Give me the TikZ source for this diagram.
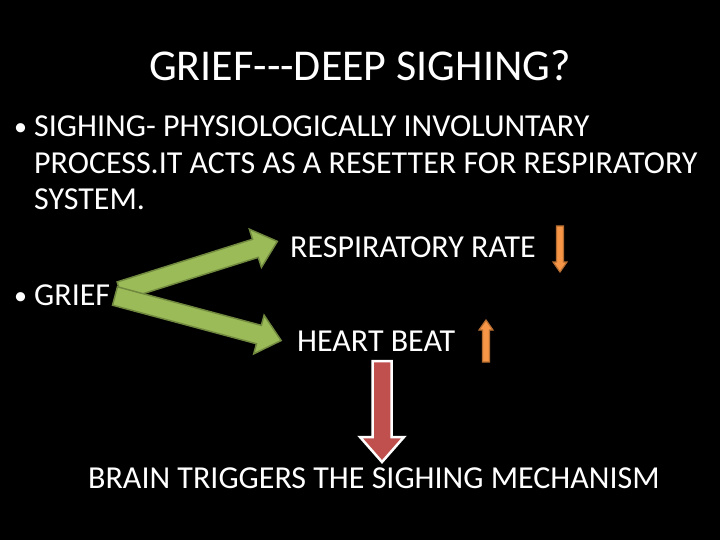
\documentclass[tikz,border=0pt]{standalone}
\usepackage{fontspec}
\setmainfont{Carlito}
\definecolor{grfill}{HTML}{9BBB59}
\definecolor{grline}{HTML}{71893F}
\definecolor{orfill}{HTML}{F79646}
\definecolor{orline}{HTML}{B66D31}
\definecolor{rdfill}{HTML}{C0504D}
\tikzset{
  txt/.style={text=white, inner sep=0pt, anchor=base west, font=\fontsize{32}{38}\selectfont},
  greenarrow/.style={fill=grfill, draw=grline, line width=1.5pt, line join=miter},
  orangearrow/.style={fill=orfill, draw=orline, line width=1.2pt},
  redarrow/.style={fill=rdfill, draw=white, line width=2.5pt, line join=miter},
}
% #1 options, #2 start, #3 angle, #4 length, #5 shaft width, #6 head width, #7 head length
\newcommand{\fatarrow}[7]{%
  \begin{scope}[shift={#2}, rotate=#3]
    \draw[#1] (0,-#5/2) -- ({#4-#7},-#5/2) -- ({#4-#7},-#6/2) -- (#4,0)
      -- ({#4-#7},#6/2) -- ({#4-#7},#5/2) -- (0,#5/2) -- cycle;
  \end{scope}}
\begin{document}
\begin{tikzpicture}[x=1pt,y=-1pt]
\fill[black] (0,0) rectangle (720,540);
\useasboundingbox (0,0) rectangle (720,540);

\node[text=white, font=\fontsize{44}{48}\selectfont, anchor=base] (title) at (360,81) {GRIEF{-}{-}{-}DEEP SIGHING?};

\node[txt, font=\fontsize{26}{30}\selectfont] (b1) at (14,136) {•};
\node[txt] (l1) at (34,137) {SIGHING- PHYSIOLOGICALLY INVOLUNTARY};
\node[txt] (l2) at (34,174) {PROCESS.IT ACTS AS A RESETTER FOR RESPIRATORY};
\node[txt] (l3) at (34,210) {SYSTEM.};
\node[txt] (rr) at (290,257) {RESPIRATORY RATE};
\node[txt, font=\fontsize{26}{30}\selectfont] (b2) at (14,304) {•};
\node[txt] (grief) at (34,305) {GRIEF};
\node[txt] (hb) at (297,351) {HEART BEAT};
\node[txt] (brain) at (88,488) {BRAIN TRIGGERS THE SIGHING MECHANISM};

% green arrows
\fatarrow{greenarrow}{(120,291)}{17.5}{165}{19}{40}{23}
\fatarrow{greenarrow}{(115,296)}{-15}{172}{19}{40}{23}

% orange arrows
\fatarrow{orangearrow}{(560,226)}{-90}{46}{7}{14}{10}
\fatarrow{orangearrow}{(486,362)}{90}{42}{7}{14}{10}

% red arrow
\fatarrow{redarrow}{(382,361)}{-90}{101}{19}{44}{25}
\end{tikzpicture}
\end{document}
